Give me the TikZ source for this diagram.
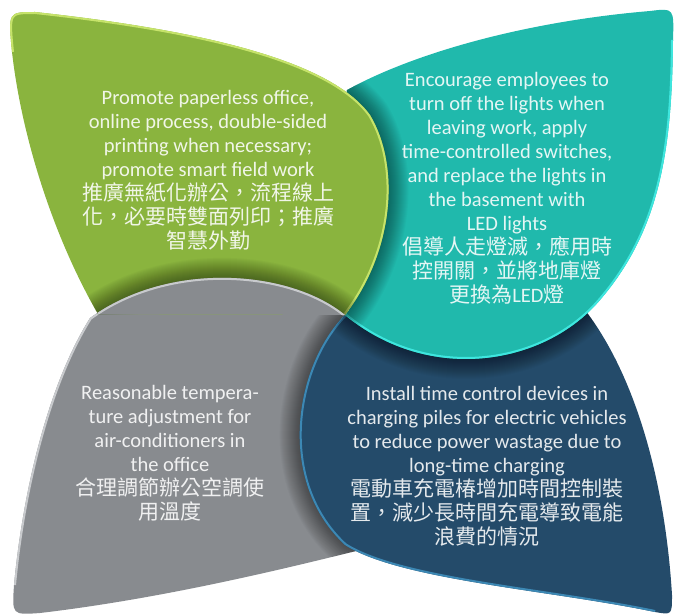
\documentclass[tikz,border=0pt]{standalone}
\usepackage{fontspec}
\setmainfont{Carlito}
\newfontfamily\cjk{Noto Sans CJK TC}
\newcommand{\cjktext}{\cjk\fontsize{21}{24}\selectfont}

\definecolor{leafgreen}{HTML}{8AB43E}
\definecolor{leafteal}{HTML}{20B9AC}
\definecolor{leafblue}{HTML}{244B6A}
\definecolor{leafgray}{HTML}{888B8F}
\definecolor{greenrim}{HTML}{C6E36A}
\definecolor{tealrim}{HTML}{3EE6DE}
\definecolor{bluerim}{HTML}{3C88B4}
\definecolor{grayrim}{HTML}{C8CACD}

% outlines of the four leaves (x right, y down)
\newcommand{\greenpath}{(98,314) .. controls (55,240) and (22,140) .. (12,52) .. controls (8,12) .. (35,12) .. controls (200,30) and (330,60) .. (370,115) .. controls (400,165) and (395,250) .. (345,315) -- cycle}
\newcommand{\greenedge}{(12,52) .. controls (8,12) .. (35,12) .. controls (200,30) and (330,60) .. (370,115) .. controls (400,165) and (395,250) .. (345,315)}
\newcommand{\tealpath}{(347,90) .. controls (410,55) and (520,22) .. (650,11) .. controls (674,8) .. (673,40) .. controls (672,150) and (660,230) .. (600,300) .. controls (545,365) and (430,385) .. (345,315) -- (330,200) -- cycle}
\newcommand{\tealedge}{(673,40) .. controls (672,150) and (660,230) .. (600,300) .. controls (545,365) and (430,385) .. (345,315)}
\newcommand{\bluepath}{(345,315) .. controls (295,365) and (275,480) .. (345,545) .. controls (400,580) and (550,590) .. (655,612) .. controls (672,615) .. (672,595) .. controls (665,480) and (635,375) .. (585,310) -- (470,335) -- cycle}
\newcommand{\blueedge}{(345,315) .. controls (295,365) and (275,480) .. (345,545) .. controls (400,580) and (550,590) .. (655,612)}
\newcommand{\graypath}{(345,315) .. controls (290,270) and (170,260) .. (90,318) .. controls (45,390) and (22,500) .. (14,585) .. controls (12,615) .. (40,613) .. controls (150,600) and (260,575) .. (360,550) -- (330,430) -- cycle}
\newcommand{\grayedge}{(345,315) .. controls (290,270) and (170,260) .. (90,318) .. controls (45,390) and (22,500) .. (14,585)}

\tikzset{
  leafshadow/.style={black, opacity=.022, line width=#1},
  leafrim/.style={draw=#1, line width=4pt},
  leaftext/.style={align=center, text=white, text opacity=.88, inner sep=0pt,
    font=\fontsize{20.5}{24}\selectfont}
}

\begin{document}
\begin{tikzpicture}[x=1pt, y=-1pt]
    \useasboundingbox (0,0) rectangle (674,615);

    % gray leaf
    \fill[leafgray] \graypath;
    \begin{scope}
        \clip \graypath;
        \draw[leafrim=grayrim] \grayedge;
        \foreach \w in {2,4,...,40}
            \draw[leafshadow=\w pt] \blueedge;
    \end{scope}

    % blue leaf
    \fill[leafblue] \bluepath;
    \begin{scope}
        \clip \bluepath;
        \draw[leafrim=bluerim] \blueedge;
        \foreach \w in {2,4,...,40}
            \draw[leafshadow=\w pt] \tealedge;
    \end{scope}

    % teal leaf
    \fill[leafteal] \tealpath;
    \begin{scope}
        \clip \tealpath;
        \draw[leafrim=tealrim] \tealedge;
        \foreach \w in {2,4,...,40}
            \draw[leafshadow=\w pt] \greenedge;
    \end{scope}

    % green leaf
    \fill[leafgreen] \greenpath;
    \begin{scope}
        \clip \greenpath;
        \draw[leafrim=greenrim] \greenedge;
        \foreach \w in {2,4,...,40}
            \draw[leafshadow=\w pt] \grayedge;
    \end{scope}

    % gray leaf again, over the green one
    \begin{scope}
        \clip \greenpath;
        \fill[leafgray] \graypath;
        \begin{scope}
            \clip \graypath;
            \draw[leafrim=grayrim] \grayedge;
        \end{scope}
    \end{scope}

    \node[leaftext] (greentext) at (208,170) {Promote paperless office,\\online process, double-sided\\printing when necessary;\\promote smart field work\\{\cjktext 推廣無紙化辦公，流程線上}\\{\cjktext 化，必要時雙面列印；推廣}\\{\cjktext 智慧外勤}};
    \node[leaftext] (tealtext) at (507,188) {Encourage employees to\\turn off the lights when\\leaving work, apply\\time-controlled switches,\\and replace the lights in\\the basement with\\LED lights\\{\cjktext 倡導人走燈滅，應用時}\\{\cjktext 控開關，並將地庫燈}\\{\cjktext 更換為}LED{\cjktext 燈}};
    \node[leaftext] (graytext) at (170,453) {Reasonable tempera-\\ture adjustment for\\air-conditioners in\\the office\\{\cjktext 合理調節辦公空調使}\\{\cjktext 用溫度}};
    \node[leaftext] (bluetext) at (487,466) {Install time control devices in\\charging piles for electric vehicles\\to reduce power wastage due to\\long-time charging\\{\cjktext 電動車充電椿增加時間控制裝}\\{\cjktext 置，減少長時間充電導致電能}\\{\cjktext 浪費的情況}};
\end{tikzpicture}
\end{document}
